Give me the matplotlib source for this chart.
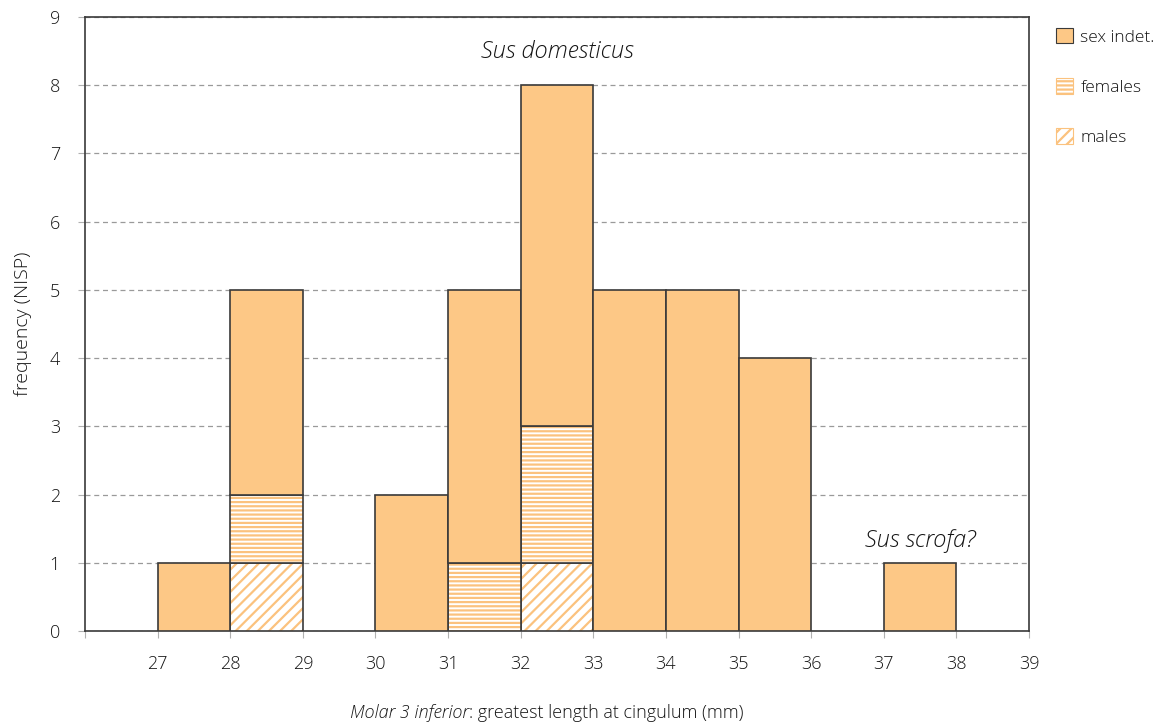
import matplotlib
matplotlib.use("Agg")
import matplotlib.pyplot as plt
from matplotlib.patches import Patch
import numpy as np

plt.rcParams['font.family'] = ['Open Sans', 'DejaVu Sans']
plt.rcParams['hatch.linewidth'] = 1.6

# bin left edges (mm) and counts per category
bin_left = [27, 28, 30, 31, 32, 33, 34, 35, 37]
males = [0, 1, 0, 0, 1, 0, 0, 0, 0]
females = [0, 1, 0, 1, 2, 0, 0, 0, 0]
sex_indet = [1, 3, 2, 4, 5, 5, 5, 4, 1]
x_ticks = list(range(27, 40))
y_ticks = list(range(0, 10))

fill = '#FDC886'
hatch_col = '#FBC27E'
edge = '#3a3a3a'
txt = '#151515'

fig = plt.figure(figsize=(11.57, 7.24), dpi=100)
ax = fig.add_axes([85 / 1157, 1 - 631 / 724, (1029 - 85) / 1157, (631 - 17) / 724])

left = np.array(bin_left, dtype=float)
m = np.array(males, dtype=float)
f = np.array(females, dtype=float)
s = np.array(sex_indet, dtype=float)

kw = dict(width=1.0, align='edge', zorder=3)
# males (diagonal hatch)
ax.bar(left, m, facecolor='white', edgecolor=hatch_col, hatch='///', linewidth=0, **kw)
ax.bar(left, m, facecolor='none', edgecolor=edge, linewidth=1.2, **kw)
# females (horizontal hatch)
ax.bar(left, f, bottom=m, facecolor='white', edgecolor=hatch_col, hatch='----', linewidth=0, **kw)
ax.bar(left, f, bottom=m, facecolor='none', edgecolor=edge, linewidth=1.2, **kw)
# sex indeterminate
ax.bar(left, s, bottom=m + f, facecolor=fill, edgecolor=edge, linewidth=1.2, **kw)

ax.set_xlim(26, 39)
ax.set_ylim(0, 9)
ax.set_xticks(range(26, 40))
ax.set_xticklabels([''] + [str(t) for t in x_ticks])
ax.set_yticks(y_ticks)
ax.set_yticklabels([str(t) for t in y_ticks])
ax.tick_params(axis='both', direction='out', length=5, color='#b0b0b0',
               labelsize=13, labelcolor=txt)
ax.tick_params(axis='x', pad=12)
ax.tick_params(axis='y', pad=13)
for lab in ax.get_xticklabels() + ax.get_yticklabels():
    lab.set_fontweight('light')

ax.yaxis.grid(True, linestyle=(0, (4, 3)), color='#9a9a9a', linewidth=0.9, zorder=0)
ax.set_axisbelow(True)
for sp in ax.spines.values():
    sp.set_color(edge)
    sp.set_linewidth(1.2)

ax.set_ylabel('frequency (NISP)', fontsize=14, color=txt, labelpad=13, fontweight='light')

# x-axis caption: italic part followed by regular part, centred as a whole
cap_y = 1 - 713 / 724
t1 = fig.text(0, cap_y, 'Molar 3 inferior', style='italic', fontsize=13,
              ha='left', va='center', color=txt, fontweight='light')
t2 = fig.text(0, cap_y, ': greatest length at cingulum (mm)', fontsize=13,
              ha='left', va='center', color=txt, fontweight='light')
fig.canvas.draw()
r = fig.canvas.get_renderer()
w1 = t1.get_window_extent(r).width / fig.bbox.width
w2 = t2.get_window_extent(r).width / fig.bbox.width
x0 = 547 / 1157 - (w1 + w2) / 2
t1.set_x(x0)
t2.set_x(x0 + w1)

ax.text(32.5, 8.49, 'Sus domesticus', style='italic', fontsize=17,
        ha='center', va='center', color=txt, fontweight='light')
ax.text(37.5, 1.32, 'Sus scrofa?', style='italic', fontsize=17,
        ha='center', va='center', color=txt, fontweight='light')

handles = [
    Patch(facecolor=fill, edgecolor=edge, linewidth=0.8, label='sex indet.'),
    Patch(facecolor='white', edgecolor=hatch_col, hatch='----', linewidth=0.8, label='females'),
    Patch(facecolor='white', edgecolor=hatch_col, hatch='///', linewidth=0.8, label='males'),
]
leg = fig.legend(handles=handles, loc='upper left', bbox_to_anchor=(1049 / 1157, 1 - 21 / 724),
                 frameon=False, fontsize=12.5, handlelength=1.0, handleheight=1.0,
                 handletextpad=0.4, labelspacing=1.87, borderaxespad=0)
for t in leg.get_texts():
    t.set_color(txt)
    t.set_fontweight('light')

fig.savefig('out.png', dpi=100)
